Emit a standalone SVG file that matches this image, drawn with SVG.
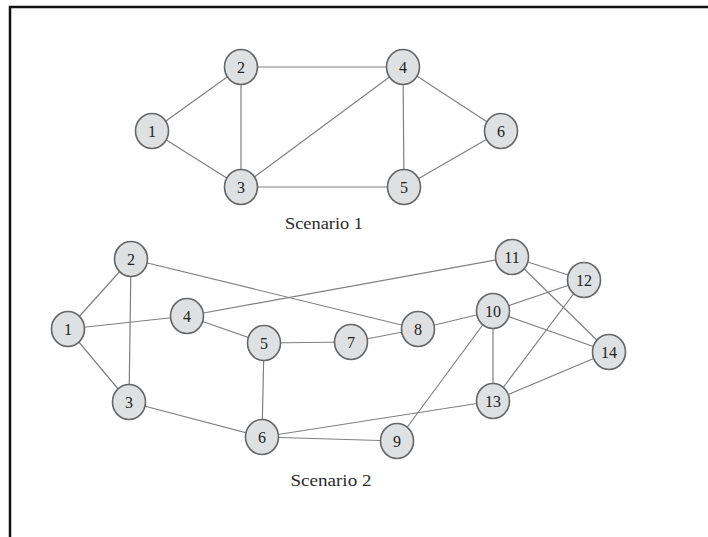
<svg xmlns="http://www.w3.org/2000/svg" width="708" height="537" viewBox="0 0 708 537">
  <style>
    .frame { fill: none; stroke: #111; stroke-width: 2.5; }
    .edge { stroke: #808080; stroke-width: 1.2; fill: none; }
    .node ellipse { fill: #dfe0e2; stroke: #666; stroke-width: 1.6; }
    .node text { font-family: "Liberation Serif", "Times New Roman", serif; font-size: 16px; fill: #222; text-anchor: middle; }
    .caption { font-family: "Liberation Serif", "Times New Roman", serif; font-size: 17px; fill: #2a2a2a; text-anchor: middle; }
  </style>
  <rect width="708" height="537" fill="#ffffff"/>
  <!-- frame: top and left edges only -->
  <path class="frame" d="M10 537 V7 H708"/>

  <!-- Scenario 1 -->
  <g id="s1-connectors">
    <line class="edge" x1="152" y1="131" x2="241" y2="67"/>
    <line class="edge" x1="152" y1="131" x2="241" y2="187"/>
    <line class="edge" x1="241" y1="67" x2="241" y2="187"/>
    <line class="edge" x1="241" y1="67" x2="403" y2="67"/>
    <line class="edge" x1="241" y1="187" x2="403" y2="67"/>
    <line class="edge" x1="241" y1="187" x2="404" y2="187"/>
    <line class="edge" x1="403" y1="67" x2="404" y2="187"/>
    <line class="edge" x1="403" y1="67" x2="501" y2="131"/>
    <line class="edge" x1="404" y1="187" x2="501" y2="131"/>
  </g>
  <g id="s1-n1" class="node"><ellipse cx="152" cy="131" rx="16.5" ry="17.5"/><text x="152" y="136.5">1</text></g>
  <g id="s1-n2" class="node"><ellipse cx="241" cy="67" rx="16.5" ry="17.5"/><text x="241" y="72.5">2</text></g>
  <g id="s1-n3" class="node"><ellipse cx="241" cy="187" rx="16.5" ry="17.5"/><text x="241" y="192.5">3</text></g>
  <g id="s1-n4" class="node"><ellipse cx="403" cy="67" rx="16.5" ry="17.5"/><text x="403" y="72.5">4</text></g>
  <g id="s1-n5" class="node"><ellipse cx="404" cy="187" rx="16.5" ry="17.5"/><text x="404" y="192.5">5</text></g>
  <g id="s1-n6" class="node"><ellipse cx="501" cy="131" rx="16.5" ry="17.5"/><text x="501" y="136.5">6</text></g>
  <text id="s1-caption" class="caption" x="324" y="229" textLength="78" lengthAdjust="spacingAndGlyphs">Scenario 1</text>

  <!-- Scenario 2 -->
  <g id="s2-connectors">
    <line class="edge" x1="68" y1="329" x2="131" y2="259"/>
    <line class="edge" x1="68" y1="329" x2="129" y2="402"/>
    <line class="edge" x1="68" y1="329" x2="187" y2="316"/>
    <line class="edge" x1="131" y1="259" x2="129" y2="402"/>
    <line class="edge" x1="131" y1="259" x2="418" y2="329"/>
    <line class="edge" x1="187" y1="316" x2="512" y2="257"/>
    <line class="edge" x1="187" y1="316" x2="264" y2="343"/>
    <line class="edge" x1="264" y1="343" x2="351" y2="342"/>
    <line class="edge" x1="264" y1="343" x2="262" y2="437"/>
    <line class="edge" x1="351" y1="342" x2="418" y2="329"/>
    <line class="edge" x1="418" y1="329" x2="493" y2="311"/>
    <line class="edge" x1="129" y1="402" x2="262" y2="437"/>
    <line class="edge" x1="262" y1="437" x2="493" y2="401"/>
    <line class="edge" x1="262" y1="437" x2="397" y2="441"/>
    <line class="edge" x1="493" y1="311" x2="584" y2="280"/>
    <line class="edge" x1="493" y1="311" x2="493" y2="401"/>
    <line class="edge" x1="493" y1="311" x2="609" y2="352"/>
    <line class="edge" x1="493" y1="311" x2="397" y2="441"/>
    <line class="edge" x1="512" y1="257" x2="584" y2="280"/>
    <line class="edge" x1="512" y1="257" x2="609" y2="352"/>
    <line class="edge" x1="584" y1="280" x2="493" y2="401"/>
    <line class="edge" x1="493" y1="401" x2="609" y2="352"/>
  </g>
  <g id="s2-n1" class="node"><ellipse cx="68" cy="329" rx="16.5" ry="17.5"/><text x="68" y="334.5">1</text></g>
  <g id="s2-n2" class="node"><ellipse cx="131" cy="259" rx="16.5" ry="17.5"/><text x="131" y="264.5">2</text></g>
  <g id="s2-n3" class="node"><ellipse cx="129" cy="402" rx="16.5" ry="17.5"/><text x="129" y="407.5">3</text></g>
  <g id="s2-n4" class="node"><ellipse cx="187" cy="316" rx="16.5" ry="17.5"/><text x="187" y="321.5">4</text></g>
  <g id="s2-n5" class="node"><ellipse cx="264" cy="343" rx="16.5" ry="17.5"/><text x="264" y="348.5">5</text></g>
  <g id="s2-n6" class="node"><ellipse cx="262" cy="437" rx="16.5" ry="17.5"/><text x="262" y="442.5">6</text></g>
  <g id="s2-n7" class="node"><ellipse cx="351" cy="342" rx="16.5" ry="17.5"/><text x="351" y="347.5">7</text></g>
  <g id="s2-n8" class="node"><ellipse cx="418" cy="329" rx="16.5" ry="17.5"/><text x="418" y="334.5">8</text></g>
  <g id="s2-n9" class="node"><ellipse cx="397" cy="441" rx="16.5" ry="17.5"/><text x="397" y="446.5">9</text></g>
  <g id="s2-n10" class="node"><ellipse cx="493" cy="311" rx="16.5" ry="17.5"/><text x="493" y="316.5">10</text></g>
  <g id="s2-n11" class="node"><ellipse cx="512" cy="257" rx="16.5" ry="17.5"/><text x="512" y="262.5">11</text></g>
  <g id="s2-n12" class="node"><ellipse cx="584" cy="280" rx="16.5" ry="17.5"/><text x="584" y="285.5">12</text></g>
  <g id="s2-n13" class="node"><ellipse cx="493" cy="401" rx="16.5" ry="17.5"/><text x="493" y="406.5">13</text></g>
  <g id="s2-n14" class="node"><ellipse cx="609" cy="352" rx="16.5" ry="17.5"/><text x="609" y="357.5">14</text></g>
  <text id="s2-caption" class="caption" x="331" y="486" textLength="81" lengthAdjust="spacingAndGlyphs">Scenario 2</text>
</svg>
